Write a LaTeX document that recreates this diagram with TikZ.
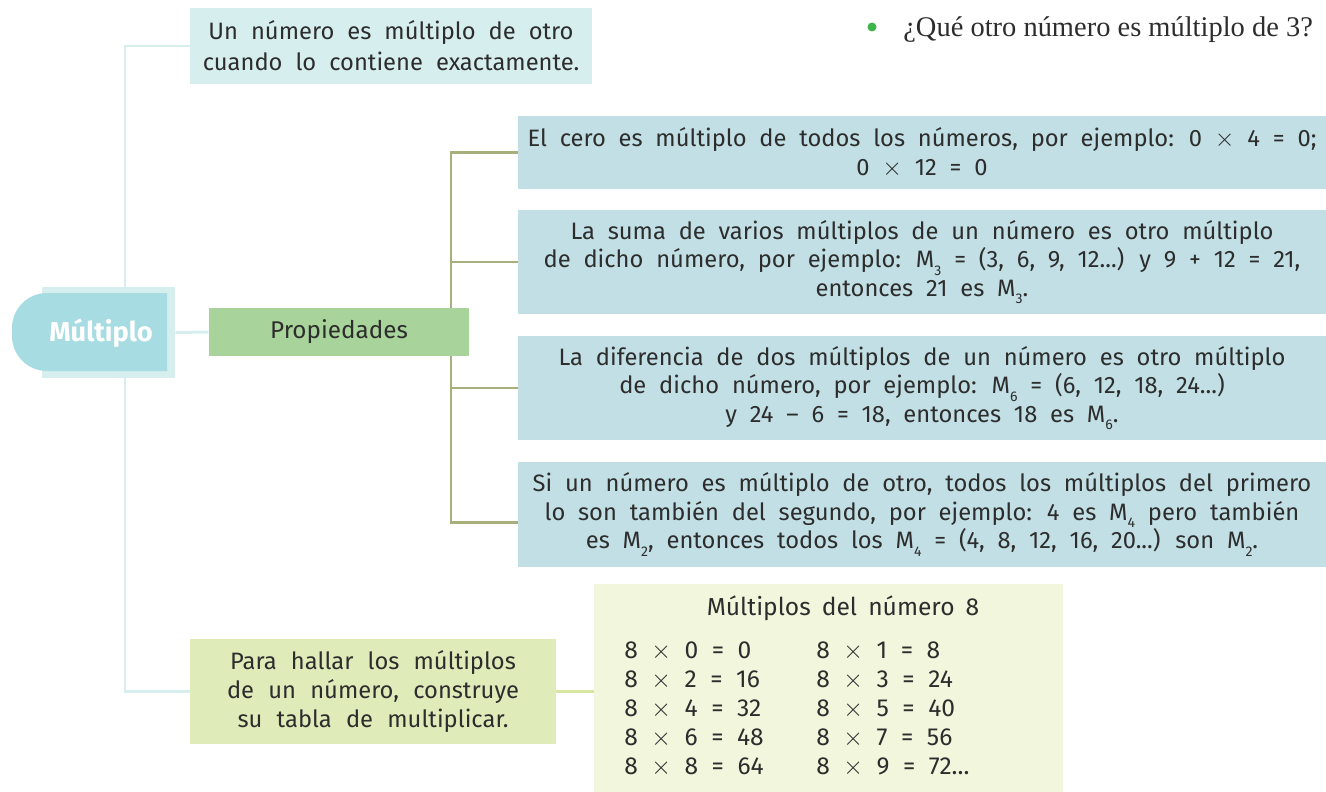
\documentclass[tikz,border=0pt]{standalone}
\usepackage{fontspec}
\setmainfont{Fira Sans}
\newfontfamily\bookfont{Liberation Serif}
\usetikzlibrary{backgrounds}
\definecolor{ink}{HTML}{2D2D2D}
\definecolor{cyanpale}{HTML}{D6EEEE}
\definecolor{multfill}{HTML}{A7DCE2}
\definecolor{propfill}{HTML}{A8D39A}
\definecolor{olive}{HTML}{A9AE7D}
\definecolor{cardfill}{HTML}{C1DFE4}
\definecolor{hallarfill}{HTML}{E0EBBA}
\definecolor{tabfill}{HTML}{F2F6DD}
\definecolor{lime}{HTML}{D8E6A4}
\definecolor{dotgreen}{HTML}{3DB54A}
\newcommand\Msub[1]{M\raisebox{-0.6ex}{\fontsize{8}{8}\selectfont #1}}
\newcommand\por{\ensuremath{\times}}
\newcommand\wide[1]{\spaceskip=#1\relax}
\tikzset{
  box/.style={inner sep=0pt, align=center, text=ink, font=\fontsize{13.5}{17.5}\selectfont\wide{0.55em}},
  defbox/.style={box, fill=cyanpale, minimum width=80.4mm, minimum height=15.2mm},
  multframe/.style={fill=cyanpale, minimum width=26.6mm, minimum height=18.2mm, inner sep=0pt},
  multtext/.style={text=white, font=\fontsize{15.5}{18}\selectfont\bfseries},
  propnode/.style={box, fill=propfill, minimum width=52mm, minimum height=9.6mm, font=\fontsize{13.8}{16}\selectfont},
  card/.style={box, fill=cardfill, minimum width=161.6mm, font=\fontsize{13.5}{16.2}\selectfont\wide{0.54em}},
  hallarbox/.style={box, fill=hallarfill, minimum width=73.2mm, minimum height=21mm, font=\fontsize{13.5}{16.5}\selectfont\wide{0.6em}},
  tabbox/.style={fill=tabfill, minimum width=93.8mm, minimum height=41.6mm, inner sep=0pt},
  tabtext/.style={inner sep=0pt, text=ink, font=\fontsize{14}{16.5}\selectfont\wide{0.55em}},
  cyanline/.style={draw=cyanpale, line width=1.7pt},
  oliveline/.style={draw=olive, line width=1.6pt},
  limeline/.style={draw=lime, line width=1.7pt},
  bulletdot/.style={circle, fill=dotgreen, minimum size=1.8mm, inner sep=0pt}
}
\begin{document}
\begin{tikzpicture}[x=0.2mm,y=-0.2mm]
\useasboundingbox (0,0) rectangle (1326,792);
% pregunta
\node[bulletdot] (dot) at (872,27) {};
\node[anchor=base west, inner sep=0pt, text=ink, font=\bookfont\fontsize{16.2}{18}\selectfont] (pregunta) at (903,37) {¿Qué otro número es múltiplo de 3?};
% concepto
\node[defbox] (def) at (391,46) {Un número es múltiplo de otro\\cuando lo contiene exactamente.};
\node[multframe] (mult) at (108.5,332.5) {};
\fill[multfill] (90,293) [rounded corners=7mm] -- (12,293) -- (12,371) -- (90,371) [sharp corners] -- (167,371) -- (167,293) -- cycle;
\node[multtext] (multlabel) at (101,333) {Múltiplo};
\node[propnode] (prop) at (339,332) {Propiedades};
% propiedades
\node[card, minimum height=14.6mm] (p1) at (922,152.5) {El cero es múltiplo de todos los números, por ejemplo: 0 \por{} 4 = 0;\\0 \por{} 12 = 0};
\node[card, minimum height=20.8mm] (p2) at (922,262) {La suma de varios múltiplos de un número es otro múltiplo\\de dicho número, por ejemplo: \Msub{3} = (3, 6, 9, 12...) y 9 + 12 = 21,\\entonces 21 es \Msub{3}.};
\node[card, minimum height=20.8mm] (p3) at (922,388) {La diferencia de dos múltiplos de un número es otro múltiplo\\de dicho número, por ejemplo: \Msub{6} = (6, 12, 18, 24...)\\y 24 – 6 = 18, entonces 18 es \Msub{6}.};
\node[card, minimum height=21mm] (p4) at (922,514.5) {Si un número es múltiplo de otro, todos los múltiplos del primero\\lo son también del segundo, por ejemplo: 4 es \Msub{4} pero también\\es \Msub{2}, entonces todos los \Msub{4} = (4, 8, 12, 16, 20...) son \Msub{2}.};
% tabla
\node[hallarbox] (hallar) at (373,691.5) {Para hallar los múltiplos\\de un número, construye\\su tabla de multiplicar.};
\node[tabbox] (tabla) at (828.5,688) {};
\node[tabtext, font=\fontsize{14}{16.5}\selectfont\wide{0.45em}] (tabtitle) at (843,608) {Múltiplos del número 8};
\foreach \l/\r [count=\i from 0] in {{8 \por{} 0 = 0}/{8 \por{} 1 = 8},{8 \por{} 2 = 16}/{8 \por{} 3 = 24},{8 \por{} 4 = 32}/{8 \por{} 5 = 40},{8 \por{} 6 = 48}/{8 \por{} 7 = 56},{8 \por{} 8 = 64}/{8 \por{} 9 = 72...}}{
  \node[tabtext, anchor=west] (tl\i) at (624,651+29*\i) {\l};
  \node[tabtext, anchor=west] (tr\i) at (816,651+29*\i) {\r};
}
\coordinate (spine) at (125,0);
\coordinate (trunk) at (451,0);
\begin{scope}[on background layer]
\draw[cyanline] (def.west) -| (spine |- hallar.west) -- (hallar.west);
\draw[cyanline] (mult.east) -- (prop.west);
\draw[oliveline] (p1.west) -- (p1.west -| trunk) -- ([yshift=-1.6mm]p4.west -| trunk) -- ([yshift=-1.6mm]p4.west);
\draw[oliveline] (p2.west) -- (p2.west -| trunk);
\draw[oliveline] (p3.west) -- (p3.west -| trunk);
\draw[limeline] (hallar.east) -- (hallar.east -| tabla.west);
\end{scope}
\end{tikzpicture}
\end{document}
